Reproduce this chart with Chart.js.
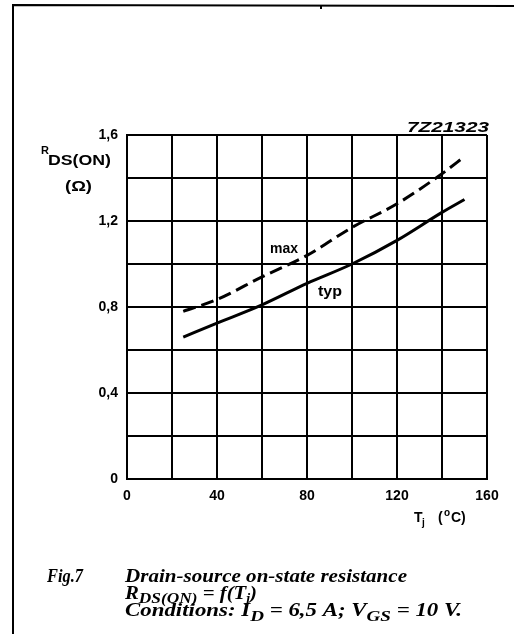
<!DOCTYPE html>
<html>
<head>
<meta charset="utf-8">
<script src="https://cdn.jsdelivr.net/npm/chart.js@4"></script>
<style>
html,body{margin:0;padding:0;background:#fff;}
#wrap{position:relative;width:514px;height:634px;}
</style>
</head>
<body>
<div id="wrap"><canvas id="c" width="514" height="634"></canvas></div>
<script>
// Data
const tempC = [25, 40, 60, 80, 100, 120, 140, 150];
const rdsTyp = [0.66, 0.725, 0.81, 0.91, 1.0, 1.11, 1.24, 1.30];
const rdsMax = [0.78, 0.835, 0.94, 1.04, 1.17, 1.28, 1.42, 1.50];
const xTickLabels = {0:'0', 40:'40', 80:'80', 120:'120', 160:'160'};
const yTickLabels = {'0':'0', '0.4':'0,4', '0.8':'0,8', '1.2':'1,2', '1.6':'1,6'};

const SANS = '"Liberation Sans", Arial, Helvetica, sans-serif';
const SERIF = '"Liberation Serif", "Times New Roman", serif';

function pts(ys){ return tempC.map((t,i)=>({x:t, y:ys[i]})); }

// draw a run of differently styled text pieces, stretched horizontally to a target width
function drawRuns(ctx, runs, x, base, target){
  let w = 0;
  runs.forEach(r => { ctx.font = r.f; w += ctx.measureText(r.t).width; });
  const s = target ? target / w : 1;
  ctx.save();
  ctx.translate(x, 0);
  ctx.scale(s, 1);
  let cx = 0;
  ctx.textAlign = 'left';
  ctx.textBaseline = 'alphabetic';
  runs.forEach(r => { ctx.font = r.f; ctx.fillText(r.t, cx, base + (r.dy || 0)); cx += ctx.measureText(r.t).width; });
  ctx.restore();
}

const annot = {
  id:'annot',
  afterDraw(chart){
    const ctx = chart.ctx;
    ctx.save();
    ctx.fillStyle = '#000';
    ctx.strokeStyle = '#000';
    // page frame
    ctx.lineWidth = 2;
    ctx.beginPath();
    ctx.moveTo(13, 634); ctx.lineTo(13, 5); ctx.lineTo(514, 6);
    ctx.stroke();
    ctx.beginPath(); ctx.moveTo(321,5); ctx.lineTo(321,9); ctx.stroke();

    // drawing number
    drawRuns(ctx, [{t:'7Z21323', f:'italic bold 14px ' + SANS}], 407, 132, 82);

    // y-axis title
    drawRuns(ctx, [{t:'R', f:'bold 11px ' + SANS}], 41, 154, 0);
    drawRuns(ctx, [{t:'DS(ON)', f:'bold 14px ' + SANS}], 48, 165, 63);
    drawRuns(ctx, [{t:'(\u03A9)', f:'bold 14px ' + SANS}], 65, 191, 27);

    // x-axis title
    const B14 = 'bold 14px ' + SANS, B10 = 'bold 10px ' + SANS;
    drawRuns(ctx, [{t:'T', f:B14}], 414, 522, 0);
    drawRuns(ctx, [{t:'j', f:B10}], 422, 526, 0);
    drawRuns(ctx, [{t:'(', f:B14}], 438, 522, 0);
    drawRuns(ctx, [{t:'o', f:B10}], 444, 516, 0);
    drawRuns(ctx, [{t:'C)', f:B14}], 451, 522, 0);

    // curve labels
    drawRuns(ctx, [{t:'max', f:'bold 14px ' + SANS}], 270, 253, 28);
    drawRuns(ctx, [{t:'typ', f:'bold 14px ' + SANS}], 318, 296, 24);

    // caption
    const BI = 'italic bold 18px ' + SERIF, BIs = 'italic bold 15px ' + SERIF, BIj = 'italic bold 12px ' + SERIF;
    drawRuns(ctx, [{t:'Fig.7', f:'italic bold 18px ' + SERIF}], 47, 582, 36);
    drawRuns(ctx, [{t:'Drain-source on-state resistance', f:BI}], 125, 582, 282);
    drawRuns(ctx, [{t:'R', f:BI}, {t:'DS(ON)', f:BIs, dy:4}, {t:' = f(T', f:BI}, {t:'j', f:BIj, dy:3}, {t:')', f:BI}], 125, 599, 132);
    drawRuns(ctx, [{t:'Conditions: I', f:BI}, {t:'D', f:BIs, dy:5}, {t:' = 6,5 A; V', f:BI}, {t:'GS', f:BIs, dy:5}, {t:' = 10 V.', f:BI}], 125, 616, 337);
    ctx.restore();
  }
};

new Chart(document.getElementById('c'), {
  type: 'line',
  data: {
    datasets: [
      { label:'typ', data: pts(rdsTyp), borderColor:'#000', borderWidth:3, pointRadius:0,
        cubicInterpolationMode:'monotone', fill:false },
      { label:'max', data: pts(rdsMax), borderColor:'#000', borderWidth:3, pointRadius:0,
        borderDash:[13,6], cubicInterpolationMode:'monotone', fill:false }
    ]
  },
  options: {
    responsive:false, animation:false, devicePixelRatio:1,
    layout:{ padding:{ left:0, top:135, right:27, bottom:0 } },
    plugins:{ legend:{display:false}, tooltip:{enabled:false}, title:{display:false} },
    scales:{
      x:{ type:'linear', min:0, max:160,
        afterFit(s){ s.height = 634 - 135 - 344; },
        grid:{ color:'#000', lineWidth:2, drawTicks:false },
        border:{ color:'#000', width:2 },
        ticks:{ stepSize:20, autoSkip:false, maxRotation:0, padding:9, color:'#000',
          font:{ family:SANS, size:14, weight:'bold' },
          callback:(v)=> xTickLabels[v] !== undefined ? xTickLabels[v] : '' }
      },
      y:{ type:'linear', min:0, max:1.6,
        afterFit(s){ s.width = 127; },
        grid:{ color:'#000', lineWidth:2, drawTicks:false },
        border:{ color:'#000', width:2 },
        ticks:{ stepSize:0.2, autoSkip:false, padding:9, color:'#000',
          font:{ family:SANS, size:14, weight:'bold' },
          callback:(v)=> { const k = String(Math.round(v*10)/10); return yTickLabels[k] !== undefined ? yTickLabels[k] : ''; } }
      }
    }
  },
  plugins:[annot]
});
</script>
</body>
</html>
